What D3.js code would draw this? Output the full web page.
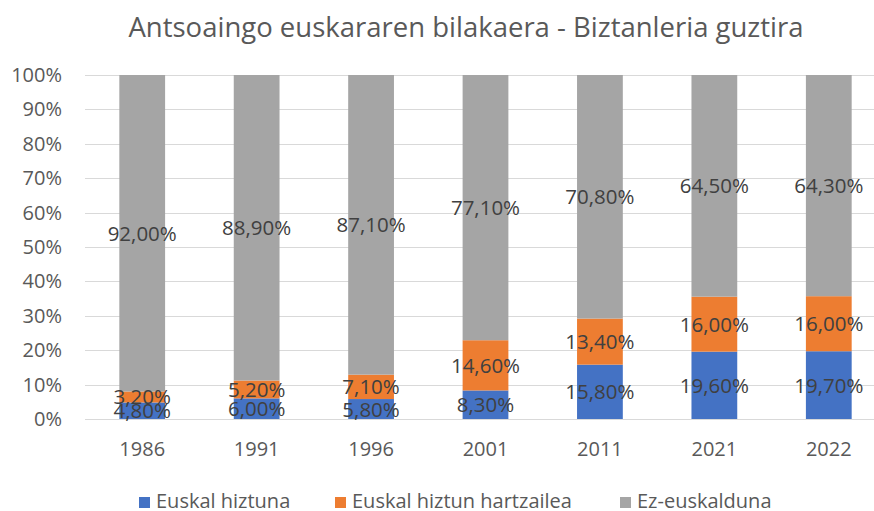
<!DOCTYPE html>
<html>
<head>
<meta charset="utf-8">
<script src="https://cdn.jsdelivr.net/npm/d3@7"></script>
<style>
body { margin: 0; background: #fff; }
text { font-family: "Open Sans", sans-serif; }
</style>
</head>
<body>
<div id="chart"></div>
<script>
var years = ["1986", "1991", "1996", "2001", "2011", "2021", "2022"];
var hiztuna = [4.8, 6.0, 5.8, 8.3, 15.8, 19.6, 19.7];
var hartzailea = [3.2, 5.2, 7.1, 14.6, 13.4, 16.0, 16.0];
var ezEuskalduna = [92.0, 88.9, 87.1, 77.1, 70.8, 64.5, 64.3];
var seriesNames = ["Euskal hiztuna", "Euskal hiztun hartzailea", "Ez-euskalduna"];
var yTicks = [0, 10, 20, 30, 40, 50, 60, 70, 80, 90, 100];

var colors = ["#4472C4", "#ED7D31", "#A5A5A5"];
var width = 874, height = 511;

var rows = years.map(function(y, i) {
    return {year: y, a: hiztuna[i], b: hartzailea[i], c: ezEuskalduna[i]};
});

var svg = d3.select("#chart")
    .append("svg")
    .attr("width", width)
    .attr("height", height);

var x = d3.scaleBand()
    .domain(years)
    .range([85, 886])
    .paddingInner(0.6)
    .paddingOuter(0.3);

var y = d3.scaleLinear()
    .domain([0, 100])
    .range([419, 75]);

// title
svg.append("text")
    .attr("x", 466)
    .attr("y", 37)
    .attr("text-anchor", "middle")
    .attr("font-size", 27.5)
    .attr("fill", "#595959")
    .text("Antsoaingo euskararen bilakaera - Biztanleria guztira");

// gridlines
svg.selectAll(".grid")
    .data(yTicks)
    .enter()
    .append("line")
    .attr("x1", 85)
    .attr("x2", width)
    .attr("y1", function(d) { return Math.round(y(d)) + 0.5; })
    .attr("y2", function(d) { return Math.round(y(d)) + 0.5; })
    .attr("stroke", "#D9D9D9")
    .attr("stroke-width", 1);

// y axis labels
var yAxis = d3.axisLeft(y)
    .tickValues(yTicks)
    .tickSize(0)
    .tickPadding(0)
    .tickFormat(function(d) { return d + "%"; });

var gy = svg.append("g")
    .attr("transform", "translate(62,0)")
    .call(yAxis);
gy.select(".domain").remove();
gy.selectAll("text")
    .attr("font-size", 20)
    .attr("fill", "#595959")
    .style("font-family", "'Open Sans', sans-serif");

// x axis labels
var xAxis = d3.axisBottom(x).tickSize(0).tickPadding(0);
var gx = svg.append("g")
    .attr("transform", "translate(0,442)")
    .call(xAxis);
gx.select(".domain").remove();
gx.selectAll("text")
    .attr("font-size", 20)
    .attr("fill", "#595959")
    .style("font-family", "'Open Sans', sans-serif");

// stacked bars (100% normalised)
var stack = d3.stack()
    .keys(["a", "b", "c"])
    .offset(d3.stackOffsetExpand);
var layers = stack(rows);

var g = svg.selectAll(".layer")
    .data(layers)
    .enter()
    .append("g")
    .attr("fill", function(d, i) { return colors[i]; });

g.selectAll("rect")
    .data(function(d) { return d; })
    .enter()
    .append("rect")
    .attr("x", function(d) { return x(d.data.year); })
    .attr("width", x.bandwidth())
    .attr("y", function(d) { return y(d[1] * 100); })
    .attr("height", function(d) { return y(d[0] * 100) - y(d[1] * 100); });

// data labels
layers.forEach(function(layer) {
    svg.selectAll(".lbl-" + layer.key)
        .data(layer)
        .enter()
        .append("text")
        .attr("x", function(d) { return x(d.data.year) + x.bandwidth() / 2; })
        .attr("y", function(d) { return y((d[0] + d[1]) * 50) + 7.5; })
        .attr("text-anchor", "middle")
        .attr("font-size", 20.5)
        .attr("fill", "#404040")
        .text(function(d) {
            return d.data[layer.key].toFixed(2).replace(".", ",") + "%";
        });
});

// legend
var legendX = [139, 335, 620];
var legend = svg.selectAll(".legend")
    .data(seriesNames)
    .enter()
    .append("g")
    .attr("transform", function(d, i) { return "translate(" + legendX[i] + ",497)"; });

legend.append("rect")
    .attr("width", 11)
    .attr("height", 11)
    .attr("fill", function(d, i) { return colors[i]; });

legend.append("text")
    .attr("x", 17)
    .attr("y", 11)
    .attr("font-size", 20)
    .attr("fill", "#595959")
    .text(function(d) { return d; });
</script>
</body>
</html>
